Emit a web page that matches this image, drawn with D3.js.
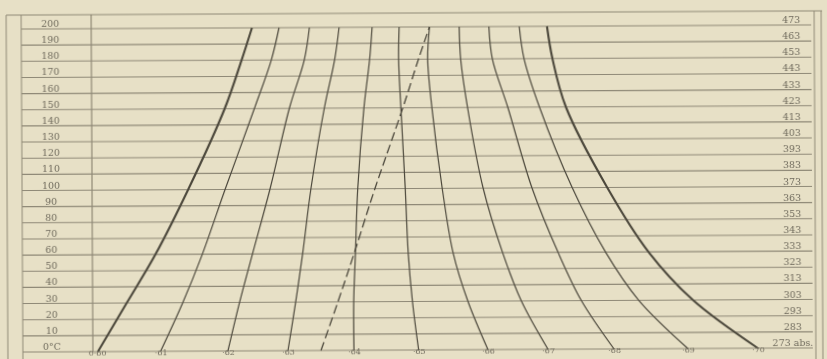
<!DOCTYPE html>
<html>
<head>
<meta charset="utf-8">
<script src="https://cdn.jsdelivr.net/npm/d3@7/dist/d3.min.js"></script>
<style>
  body { margin: 0; background: #e7e0c6; }
  svg { display: block; }
</style>
</head>
<body>
<svg id="chart"></svg>
<script>
const temps = [0, 30, 60, 100, 150, 180, 200];

// x positions of each curve, in hundredths (·60 .. ·70)
const curveA = [60.00, 60.44, 60.88, 61.38, 61.94, 62.20, 62.36];
const curveB = [60.95, 61.29, 61.59, 61.94, 62.39, 62.65, 62.77];
const curveC = [61.97, 62.15, 62.35, 62.62, 62.92, 63.15, 63.23];
const curveD = [62.88, 63.00, 63.11, 63.24, 63.45, 63.61, 63.68];
const curveE = [63.88, 63.88, 63.91, 63.95, 64.05, 64.14, 64.18];
const curveF = [64.86, 64.77, 64.71, 64.67, 64.61, 64.58, 64.59];
const curveG = [65.91, 65.61, 65.39, 65.23, 65.08, 65.02, 65.05];
const curveH = [66.82, 66.42, 66.14, 65.85, 65.62, 65.52, 65.50];
const curveI = [67.82, 67.33, 66.98, 66.59, 66.23, 66.00, 65.95];
const curveJ = [68.94, 68.20, 67.70, 67.20, 66.71, 66.48, 66.41];
const curveK = [70.00, 69.02, 68.35, 67.73, 67.11, 66.91, 66.83];
const dashedCurve = [63.38, 63.64, 63.89, 64.21, 64.64, 64.88, 65.05];

const bottomLabels = ['0·60', '·61', '·62', '·63', '·64', '·65', '·66', '·67', '·68', '·69', '·70'];
const celsiusTicks = [200, 190, 180, 170, 160, 150, 140, 130, 120, 110, 100, 90, 80, 70, 60, 50, 40, 30, 20, 10, 0];
const celsiusLabels = ['200', '190', '180', '170', '160', '150', '140', '130', '120', '110', '100',
  '90', '80', '70', '60', '50', '40', '30', '20', '10', '0°C'];
const absLabels = ['473', '463', '453', '443', '433', '423', '413', '403', '393', '383', '373',
  '363', '353', '343', '333', '323', '313', '303', '293', '283', '273 abs.'];

const width = 827;
const height = 359;

const svg = d3.select('#chart').attr('width', width).attr('height', height);

svg.append('defs')
  .append('filter')
  .attr('id', 'scan')
  .append('feGaussianBlur')
  .attr('stdDeviation', 0.5);

svg.append('rect').attr('width', width).attr('height', height).attr('fill', '#e7e0c6');

// the scan is a little tilted
const body = svg.append('g')
  .attr('filter', 'url(#scan)')
  .attr('transform', 'rotate(-0.3,413,180)');

const x = d3.scaleLinear().domain([60, 70]).range([97, 757]);
const y = d3.scaleLinear().domain([0, 200]).range([350, 27]);

const gridColor = '#8f8977';
const inkColor = '#4b473b';
const textColor = '#6f6a5c';

// frame
body.append('line').attr('x1', 7).attr('x2', 823).attr('y1', 13).attr('y2', 13)
  .attr('stroke', gridColor).attr('stroke-width', 1);
[7, 22, 815, 822].forEach(fx => {
  body.append('line').attr('x1', fx).attr('x2', fx).attr('y1', 13).attr('y2', 362)
    .attr('stroke', gridColor).attr('stroke-width', 1);
});
body.append('line').attr('x1', 92).attr('x2', 92).attr('y1', 13).attr('y2', y(0))
  .attr('stroke', '#7d7765').attr('stroke-width', 1);

// horizontal temperature lines
body.append('g')
  .selectAll('line')
  .data(celsiusTicks)
  .join('line')
  .attr('x1', 22)
  .attr('x2', 812)
  .attr('y1', d => y(d))
  .attr('y2', d => y(d))
  .attr('stroke', gridColor)
  .attr('stroke-width', 1.1);

// left (Celsius) labels, sitting on the lines
body.append('g')
  .selectAll('text')
  .data(celsiusTicks)
  .join('text')
  .attr('x', 51)
  .attr('y', d => y(d) - 2)
  .attr('text-anchor', 'middle')
  .attr('font-family', 'DejaVu Serif, serif')
  .attr('font-size', 9.5)
  .attr('fill', textColor)
  .text((d, i) => celsiusLabels[i]);

// right (absolute) labels
body.append('g')
  .selectAll('text')
  .data(celsiusTicks)
  .join('text')
  .attr('x', 792)
  .attr('y', d => y(d) - 2)
  .attr('text-anchor', 'middle')
  .attr('font-family', 'DejaVu Serif, serif')
  .attr('font-size', 9.5)
  .attr('fill', textColor)
  .text((d, i) => absLabels[i]);

const curves = [
  { vals: curveA, w: 2.1 },
  { vals: curveB, w: 1.2 },
  { vals: curveC, w: 1.2 },
  { vals: curveD, w: 1.2 },
  { vals: curveE, w: 1.2 },
  { vals: curveF, w: 1.2 },
  { vals: curveG, w: 1.2 },
  { vals: curveH, w: 1.2 },
  { vals: curveI, w: 1.2 },
  { vals: curveJ, w: 1.2 },
  { vals: curveK, w: 2.1 }
];

const line = d3.line()
  .x(d => x(d[1]))
  .y(d => y(d[0]))
  .curve(d3.curveCatmullRom);

body.append('g')
  .selectAll('path')
  .data(curves)
  .join('path')
  .attr('d', c => line(temps.map((t, i) => [t, c.vals[i]])))
  .attr('fill', 'none')
  .attr('stroke', inkColor)
  .attr('stroke-width', c => c.w);

body.append('path')
  .attr('d', line(temps.map((t, i) => [t, dashedCurve[i]])))
  .attr('fill', 'none')
  .attr('stroke', inkColor)
  .attr('stroke-width', 1.3)
  .attr('stroke-dasharray', '9,4');

// bottom labels at the foot of every curve
const xAxis = d3.axisBottom(x)
  .tickValues(curves.map(c => c.vals[0]))
  .tickFormat((d, i) => bottomLabels[i])
  .tickSize(0)
  .tickPadding(0);

const axisG = body.append('g')
  .attr('transform', 'translate(0,' + y(0) + ')')
  .call(xAxis);
axisG.select('.domain').remove();
axisG.selectAll('text')
  .attr('font-family', 'DejaVu Serif, serif')
  .attr('font-size', 8)
  .attr('fill', textColor)
  .attr('dy', '0.55em')
  .attr('text-anchor', (d, i) => (i === 0 ? 'end' : 'middle'))
  .attr('dx', (d, i) => (i === 0 ? 8 : 0));
</script>
</body>
</html>
